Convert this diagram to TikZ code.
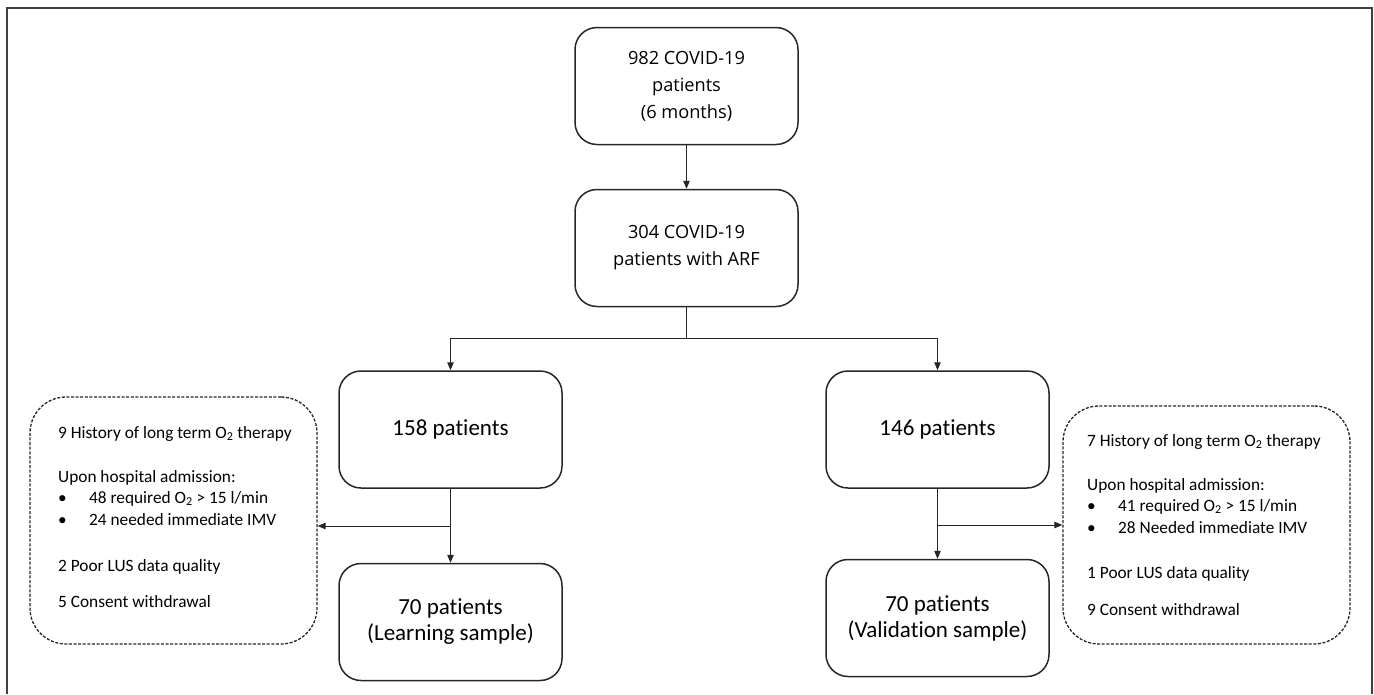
\documentclass[tikz,border=0pt]{standalone}
\usepackage{fontspec}
\setmainfont[Ligatures=NoCommon]{Carlito}
\newfontfamily\osans{Open Sans}
\usetikzlibrary{arrows.meta,calc}
\begin{document}
\begin{tikzpicture}[x=1pt,y=-1pt,
  box/.style={draw=black!85,line width=1.5pt,rounded corners=22pt,minimum width=223pt,minimum height=117pt,inner sep=0pt,align=center},
  dbox/.style={draw=black!85,line width=1.3pt,dash pattern=on 3pt off 1.6pt,rounded corners=36pt,minimum width=287pt,inner sep=0pt},
  topfont/.style={font=\osans\fontsize{18.2}{27}\selectfont},
  bigfont/.style={font=\fontsize{23}{26}\selectfont},
  ln/.style={anchor=base west,inner sep=0pt,font=\fontsize{17.3}{20}\selectfont},
  arr/.style={draw=black!85,line width=1pt,-{Triangle[length=8pt,width=6.5pt]}},
  con/.style={draw=black!85,line width=1pt}]
\useasboundingbox (0,0) rectangle (1374,694);
\draw[draw=black!75,line width=2pt] (7,694) -- (7,8) -- (1372,8) -- (1372,694);

\node[box,topfont] (b1) at (686.5,86) {982 COVID-19\\patients\\(6 months)};
\node[box,topfont] (b2) at (686.5,248) {304 COVID-19\\patients with ARF};
\node[box,bigfont] (l1) at (450.5,429.5) {158 patients};
\node[box,bigfont] (l2) at (450.5,622) {70 patients\\(Learning sample)};
\node[box,bigfont] (r1) at (937.5,429.5) {146 patients};
\node[box,bigfont] (r2) at (937.5,618) {70 patients\\(Validation sample)};

\node[dbox,minimum height=247pt] (ld) at (173.5,520.5) {};
\node[dbox,minimum height=238pt] (rd) at (1206.5,525) {};

% left exclusion text
\node[ln] (lt1) at (58,438) {9 History of long term O\textsubscript{2} therapy};
\node[ln] (lt2) at (58,482) {Upon hospital admission:};
\node[ln] (lt3) at (58,503) {\makebox[31pt][l]{\textbullet}48 required O\textsubscript{2} > 15 l/min};
\node[ln] (lt4) at (58,525) {\makebox[31pt][l]{\textbullet}24 needed immediate IMV};
\node[ln] (lt5) at (58,571) {2 Poor LUS data quality};
\node[ln] (lt6) at (58,607) {5 Consent withdrawal};

% right exclusion text
\node[ln] (rt1) at (1087,446) {7 History of long term O\textsubscript{2} therapy};
\node[ln] (rt2) at (1087,490) {Upon hospital admission:};
\node[ln] (rt3) at (1087,511) {\makebox[31pt][l]{\textbullet}41 required O\textsubscript{2} > 15 l/min};
\node[ln] (rt4) at (1087,533) {\makebox[31pt][l]{\textbullet}28 Needed immediate IMV};
\node[ln] (rt5) at (1087,578) {1 Poor LUS data quality};
\node[ln] (rt6) at (1087,615) {9 Consent withdrawal};

% connectors
\draw[arr] (b1) -- (b2);
\coordinate (sp) at (686.5,338);
\draw[con] (b2.south) -- (sp);
\draw[arr] (sp) -| (l1.north);
\draw[arr] (sp) -| (r1.north);
\draw[arr] (l1) -- (l2);
\draw[arr] (r1) -- (r2);
\coordinate (lj) at (450.5,526);
\coordinate (rj) at (937.5,525);
\draw[arr] (lj) -- (lj -| ld.east);
\draw[arr] (rj) -- (rj -| rd.west);
\end{tikzpicture}
\end{document}
